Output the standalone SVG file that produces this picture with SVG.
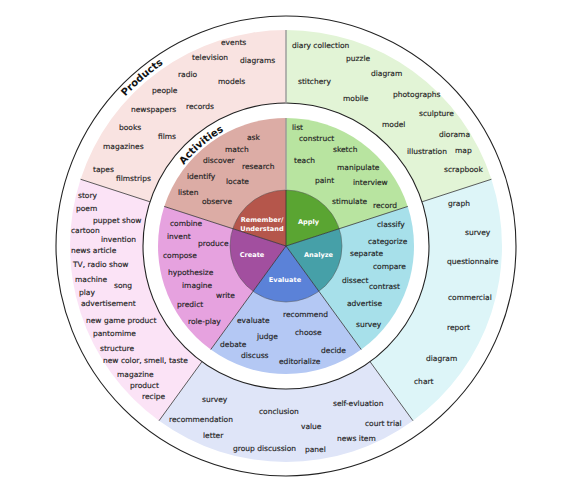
<svg xmlns="http://www.w3.org/2000/svg" width="572" height="488" viewBox="0 0 572 488">
<style>
.t{font-family:"DejaVu Sans",Verdana,sans-serif;font-size:7.5px;fill:#222;stroke:#222;stroke-width:0.15}
.c{font-family:"DejaVu Sans",Verdana,sans-serif;font-size:6.6px;font-weight:bold;fill:#fff;text-anchor:middle}
.h{font-family:"DejaVu Sans",Verdana,sans-serif;font-size:10px;font-weight:bold;fill:#111;text-anchor:middle}
.rad{stroke:#333;stroke-width:0.8;fill:none}
.circ{fill:none;stroke:#222;stroke-width:1.1}
</style>
<defs>
<path id="arcP" d="M79.737 170.927 A219.5 219.5 0 0 1 244.117 30.533"/>
<path id="arcA" d="M163.370 201.366 A130.5 130.5 0 0 1 263.339 117.483"/>
</defs>
<rect width="572" height="488" fill="#fff"/>

<!-- Products ring -->
<g id="products-remember">
<path d="M80.572 179.252 A216 216 0 0 1 286 30 L286 103 A143 143 0 0 0 149.999 201.811 Z" fill="#f9e3e1"/>
<text class="t" x="221" y="45">events</text>
<text class="t" x="192" y="60">television</text>
<text class="t" x="240" y="63">diagrams</text>
<text class="t" x="178" y="77">radio</text>
<text class="t" x="218" y="84">models</text>
<text class="t" x="152" y="93">people</text>
<text class="t" x="131" y="112">newspapers</text>
<text class="t" x="186" y="109">records</text>
<text class="t" x="119" y="130">books</text>
<text class="t" x="158" y="139">films</text>
<text class="t" x="103" y="149">magazines</text>
<text class="t" x="93" y="172">tapes</text>
<text class="t" x="116" y="181">filmstrips</text>
</g>
<g id="products-apply">
<path d="M286 30 A216 216 0 0 1 491.428 179.252 L422.001 201.811 A143 143 0 0 0 286 103 Z" fill="#e2f4d6"/>
<text class="t" x="292" y="48">diary collection</text>
<text class="t" x="346" y="61">puzzle</text>
<text class="t" x="371" y="76">diagram</text>
<text class="t" x="298" y="84">stitchery</text>
<text class="t" x="343" y="101">mobile</text>
<text class="t" x="393" y="97">photographs</text>
<text class="t" x="419" y="116">sculpture</text>
<text class="t" x="382" y="127">model</text>
<text class="t" x="439" y="137">diorama</text>
<text class="t" x="407" y="154">illustration</text>
<text class="t" x="455" y="153">map</text>
<text class="t" x="444" y="172">scrapbook</text>
</g>
<g id="products-analyze">
<path d="M491.428 179.252 A216 216 0 0 1 412.962 420.748 L370.053 361.689 A143 143 0 0 0 422.001 201.811 Z" fill="#ddf5f8"/>
<text class="t" x="448" y="206">graph</text>
<text class="t" x="465" y="235">survey</text>
<text class="t" x="447" y="264">questionnaire</text>
<text class="t" x="448" y="300">commercial</text>
<text class="t" x="447" y="330">report</text>
<text class="t" x="426" y="361">diagram</text>
<text class="t" x="414" y="384">chart</text>
</g>
<g id="products-evaluate">
<path d="M412.962 420.748 A216 216 0 0 1 159.038 420.748 L201.947 361.689 A143 143 0 0 0 370.053 361.689 Z" fill="#dfe5f8"/>
<text class="t" x="202" y="402">survey</text>
<text class="t" x="333" y="406">self-evluation</text>
<text class="t" x="259" y="414">conclusion</text>
<text class="t" x="169" y="422">recommendation</text>
<text class="t" x="365" y="426">court trial</text>
<text class="t" x="301" y="429">value</text>
<text class="t" x="203" y="438">letter</text>
<text class="t" x="337" y="441">news item</text>
<text class="t" x="233" y="451">group discussion</text>
<text class="t" x="305" y="452">panel</text>
</g>
<g id="products-create">
<path d="M159.038 420.748 A216 216 0 0 1 80.572 179.252 L149.999 201.811 A143 143 0 0 0 201.947 361.689 Z" fill="#fbe3f6"/>
<text class="t" x="78" y="198">story</text>
<text class="t" x="76" y="211">poem</text>
<text class="t" x="93" y="223">puppet show</text>
<text class="t" x="71" y="233">cartoon</text>
<text class="t" x="101" y="242">invention</text>
<text class="t" x="71" y="253">news article</text>
<text class="t" x="73" y="267">TV, radio show</text>
<text class="t" x="75" y="282">machine</text>
<text class="t" x="114" y="288">song</text>
<text class="t" x="79" y="295">play</text>
<text class="t" x="81" y="306">advertisement</text>
<text class="t" x="86" y="323">new game product</text>
<text class="t" x="93" y="336">pantomime</text>
<text class="t" x="100" y="351">structure</text>
<text class="t" x="103" y="363">new color, smell, taste</text>
<text class="t" x="117" y="377">magazine</text>
<text class="t" x="130" y="388">product</text>
<text class="t" x="142" y="399">recipe</text>
</g>

<!-- Activities ring -->
<g id="activities-remember">
<path d="M286 246 L164.265 206.446 A128 128 0 0 1 286 118 Z" fill="#dcaca5"/>
<text class="t" x="247" y="140">ask</text>
<text class="t" x="225" y="152">match</text>
<text class="t" x="203" y="163">discover</text>
<text class="t" x="242" y="169">research</text>
<text class="t" x="187" y="179">identify</text>
<text class="t" x="226" y="184">locate</text>
<text class="t" x="178" y="195">listen</text>
<text class="t" x="202" y="204">observe</text>
</g>
<g id="activities-apply">
<path d="M286 246 L286 118 A128 128 0 0 1 407.735 206.446 Z" fill="#b8e4a0"/>
<text class="t" x="292" y="130">list</text>
<text class="t" x="299" y="141">construct</text>
<text class="t" x="333" y="152">sketch</text>
<text class="t" x="294" y="163">teach</text>
<text class="t" x="337" y="170">manipulate</text>
<text class="t" x="315" y="183">paint</text>
<text class="t" x="353" y="185">interview</text>
<text class="t" x="332" y="204">stimulate</text>
<text class="t" x="373" y="208">record</text>
</g>
<g id="activities-analyze">
<path d="M286 246 L407.735 206.446 A128 128 0 0 1 361.236 349.554 Z" fill="#a7e0ea"/>
<text class="t" x="377" y="227">classify</text>
<text class="t" x="368" y="244">categorize</text>
<text class="t" x="350" y="256">separate</text>
<text class="t" x="373" y="269">compare</text>
<text class="t" x="342" y="283">dissect</text>
<text class="t" x="369" y="289">contrast</text>
<text class="t" x="347" y="306">advertise</text>
<text class="t" x="356" y="327">survey</text>
</g>
<g id="activities-evaluate">
<path d="M286 246 L361.236 349.554 A128 128 0 0 1 210.764 349.554 Z" fill="#b4c8f4"/>
<text class="t" x="237" y="323">evaluate</text>
<text class="t" x="283" y="317">recommend</text>
<text class="t" x="257" y="339">judge</text>
<text class="t" x="295" y="335">choose</text>
<text class="t" x="220" y="347">debate</text>
<text class="t" x="321" y="353">decide</text>
<text class="t" x="241" y="358">discuss</text>
<text class="t" x="279" y="364">editorialize</text>
</g>
<g id="activities-create">
<path d="M286 246 L210.764 349.554 A128 128 0 0 1 164.265 206.446 Z" fill="#e6a2df"/>
<text class="t" x="170" y="226">combine</text>
<text class="t" x="167" y="239">invent</text>
<text class="t" x="198" y="246">produce</text>
<text class="t" x="163" y="258">compose</text>
<text class="t" x="168" y="275">hypothesize</text>
<text class="t" x="182" y="288">imagine</text>
<text class="t" x="216" y="298">write</text>
<text class="t" x="177" y="307">predict</text>
<text class="t" x="188" y="324">role-play</text>
</g>

<!-- Core -->
<g id="core-remember">
<path d="M286 246 L232.741 228.695 A56 56 0 0 1 286 190 Z" fill="#b5564b"/>
<text class="c" x="262" y="222">Remember/</text>
<text class="c" x="262" y="230.5">Understand</text>
</g>
<g id="core-apply">
<path d="M286 246 L286 190 A56 56 0 0 1 339.259 228.695 Z" fill="#5aa532"/>
<text class="c" x="308.5" y="224">Apply</text>
</g>
<g id="core-analyze">
<path d="M286 246 L339.259 228.695 A56 56 0 0 1 318.916 291.305 Z" fill="#46a0a8"/>
<text class="c" x="318.5" y="256.5">Analyze</text>
</g>
<g id="core-evaluate">
<path d="M286 246 L318.916 291.305 A56 56 0 0 1 253.084 291.305 Z" fill="#5b82d8"/>
<text class="c" x="285" y="282">Evaluate</text>
</g>
<g id="core-create">
<path d="M286 246 L253.084 291.305 A56 56 0 0 1 232.741 228.695 Z" fill="#a24f9f"/>
<text class="c" x="252" y="257">Create</text>
</g>

<!-- Connectors / dividing lines -->
<g id="connectors">
<circle class="circ" cx="286" cy="246" r="230"/>
<circle class="circ" cx="286" cy="246" r="143" stroke-width="0.9"/>
<circle cx="286" cy="246" r="56" fill="none" stroke="#555" stroke-width="0.5"/>
<line x1="286" y1="30" x2="286" y2="103" stroke="#999" stroke-width="1.4"/>
<line x1="491.428" y1="179.252" x2="422.001" y2="201.811" class="rad"/>
<line x1="412.962" y1="420.748" x2="370.053" y2="361.689" class="rad"/>
<line x1="159.038" y1="420.748" x2="201.947" y2="361.689" class="rad"/>
<line x1="80.572" y1="179.252" x2="149.999" y2="201.811" class="rad"/>
<line x1="286" y1="118" x2="286" y2="190" stroke="#999" stroke-width="1.4"/>
<line x1="286" y1="190" x2="286" y2="246" class="rad"/>
<line x1="286" y1="246" x2="407.735" y2="206.446" class="rad"/>
<line x1="286" y1="246" x2="361.236" y2="349.554" class="rad"/>
<line x1="286" y1="246" x2="210.764" y2="349.554" class="rad"/>
<line x1="286" y1="246" x2="164.265" y2="206.446" class="rad"/>
</g>

<g id="ring-labels">
<text class="h"><textPath href="#arcP" startOffset="50%">Products</textPath></text>
<text class="h"><textPath href="#arcA" startOffset="50%">Activities</textPath></text>
</g>
</svg>
